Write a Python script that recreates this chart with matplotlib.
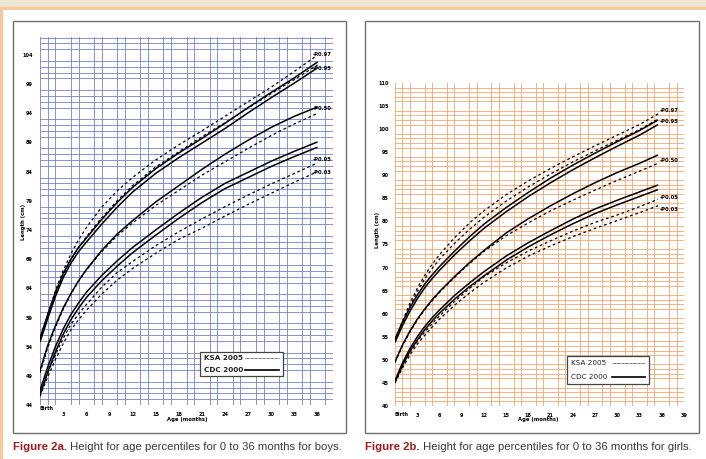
import matplotlib
matplotlib.use("Agg")
import matplotlib.pyplot as plt
from matplotlib.patches import Rectangle
import numpy as np

# ---------------- data ----------------
boys_months = [0, 1, 2, 3, 4, 5, 6, 8, 10, 12, 15, 18, 21, 24, 27, 30, 33, 36]
b_cdc97 = [55.5, 59.5, 63.3, 66.5, 69.0, 71.0, 72.6, 75.8, 78.7, 81.3, 84.5, 87.2, 89.7, 92.3, 95.0, 97.6, 100.1, 102.8]
b_cdc95 = [54.8, 58.8, 62.6, 65.8, 68.3, 70.3, 71.9, 75.0, 77.9, 80.5, 83.7, 86.4, 88.9, 91.4, 94.1, 96.7, 99.2, 101.8]
b_cdc50 = [49.9, 54.2, 57.6, 60.6, 63.1, 65.3, 67.2, 70.5, 73.3, 75.6, 78.8, 81.6, 84.4, 87.0, 89.4, 91.6, 93.5, 95.1]
b_cdc05 = [46.5, 50.5, 54.0, 57.0, 59.5, 61.5, 63.3, 66.2, 68.7, 71.0, 74.0, 76.9, 79.6, 82.0, 83.9, 85.8, 87.5, 89.1]
b_cdc03 = [45.7, 49.6, 53.1, 56.1, 58.6, 60.6, 62.4, 65.3, 67.8, 70.1, 73.1, 76.0, 78.7, 81.1, 83.0, 84.9, 86.6, 88.2]
b_ksa97 = [55.0, 59.6, 63.6, 67.0, 69.9, 72.3, 74.4, 77.9, 80.7, 83.0, 86.0, 88.6, 91.0, 93.5, 96.0, 98.5, 101.2, 104.0]
b_ksa95 = [55.2, 59.3, 63.0, 66.3, 68.9, 71.0, 72.8, 76.1, 79.0, 81.6, 84.8, 87.4, 90.0, 92.4, 94.9, 97.4, 99.8, 102.3]
b_ksa50 = [49.5, 53.8, 57.3, 60.4, 63.0, 65.2, 67.1, 70.3, 73.0, 75.2, 78.2, 80.8, 83.4, 85.7, 88.0, 90.2, 92.2, 94.0]
b_ksa05 = [46.0, 49.5, 52.6, 55.4, 57.8, 59.6, 61.2, 64.2, 66.7, 68.6, 71.3, 73.7, 75.9, 78.0, 80.0, 81.9, 83.7, 85.5]
b_ksa03 = [45.5, 48.8, 51.8, 54.5, 56.9, 58.6, 60.2, 63.0, 65.4, 67.4, 70.0, 72.4, 74.3, 76.4, 78.4, 80.3, 82.2, 84.0]

girls_months = [0, 1, 2, 3, 4, 5, 6, 8, 10, 12, 15, 18, 21, 24, 27, 30, 33, 35.5]
g_cdc97 = [54.5, 58.2, 61.3, 64.0, 66.4, 68.4, 70.2, 73.5, 76.6, 79.4, 83.0, 86.3, 89.4, 92.2, 94.8, 97.3, 99.7, 102.0]
g_cdc95 = [53.8, 57.4, 60.5, 63.2, 65.6, 67.6, 69.4, 72.7, 75.7, 78.5, 82.1, 85.4, 88.4, 91.2, 93.8, 96.3, 98.7, 101.0]
g_cdc50 = [49.6, 53.2, 56.2, 58.8, 61.0, 63.0, 64.8, 68.0, 71.0, 73.7, 77.5, 80.6, 83.4, 86.0, 88.4, 90.6, 92.6, 94.4]
g_cdc05 = [45.5, 49.3, 52.4, 55.0, 57.2, 59.1, 60.8, 63.9, 66.6, 69.1, 72.5, 75.4, 78.0, 80.5, 82.7, 84.6, 86.4, 87.9]
g_cdc03 = [45.2, 48.8, 51.8, 54.3, 56.5, 58.4, 60.1, 63.1, 65.8, 68.2, 71.6, 74.5, 77.1, 79.5, 81.7, 83.6, 85.4, 86.9]
g_ksa97 = [54.0, 58.3, 62.2, 65.5, 68.3, 70.7, 72.8, 76.4, 79.6, 82.3, 85.8, 88.8, 91.5, 94.0, 96.4, 98.7, 101.0, 103.3]
g_ksa95 = [53.8, 57.8, 61.5, 64.8, 67.5, 69.8, 71.8, 75.2, 78.2, 80.9, 84.4, 87.5, 90.3, 92.9, 95.3, 97.6, 99.9, 102.2]
g_ksa50 = [49.4, 53.0, 56.0, 58.6, 60.8, 62.8, 64.6, 67.8, 70.8, 73.5, 76.9, 79.7, 82.3, 84.6, 86.8, 88.9, 90.9, 92.6]
g_ksa05 = [45.2, 48.6, 51.6, 54.0, 56.0, 57.8, 59.5, 62.6, 65.4, 68.0, 71.0, 73.6, 75.8, 77.9, 79.8, 81.4, 83.2, 84.8]
g_ksa03 = [45.0, 48.2, 51.0, 53.4, 55.3, 57.1, 58.8, 61.8, 64.4, 66.8, 69.9, 72.5, 74.7, 76.7, 78.5, 80.2, 81.9, 83.4]

pct_labels = ["P0.97", "P0.95", "P0.50", "P0.05", "P0.03"]
boys_label_y = [104.1, 101.7, 94.9, 86.0, 83.8]
girls_label_y = [104.0, 101.6, 93.1, 85.1, 82.6]

boys_yticks = [44, 49, 54, 59, 64, 69, 74, 79, 84, 89, 94, 99, 104]
girls_yticks = [40, 45, 50, 55, 60, 65, 70, 75, 80, 85, 90, 95, 100, 105, 110]
boys_xticks = [3, 6, 9, 12, 15, 18, 21, 24, 27, 30, 33, 36]
girls_xticks = [3, 6, 9, 12, 15, 18, 21, 24, 27, 30, 33, 36, 39]

legend_names = ["KSA 2005", "CDC 2000"]
caption_a = ("Figure 2a.", " Height for age percentiles for 0 to 36 months for boys.")
caption_b = ("Figure 2b.", " Height for age percentiles for 0 to 36 months for girls.")

# ---------------- figure ----------------
W, H = 706, 459
fig = plt.figure(figsize=(W / 100, H / 100), dpi=100)
fig.patch.set_facecolor("white")


def px(x, y):
    return x / W, 1 - y / H


# decorative frame
fig.patches.append(Rectangle((0, 1 - 7 / H), 1, 7 / H, transform=fig.transFigure,
                             facecolor="#efe7d6", edgecolor="none", zorder=0))
fig.patches.append(Rectangle((0, 1 - 10 / H), 1, 3 / H, transform=fig.transFigure,
                             facecolor="#f8c89c", edgecolor="none", zorder=0))
fig.patches.append(Rectangle((0, 0), 3 / W, 1 - 10 / H, transform=fig.transFigure,
                             facecolor="#f8c89c", edgecolor="none", zorder=0))
for (x0, x1) in [(13, 346), (365, 699)]:
    fig.patches.append(Rectangle((x0 / W, 1 - 433 / H), (x1 - x0) / W, (433 - 21) / H,
                                 transform=fig.transFigure, facecolor="none",
                                 edgecolor="#707070", lw=1.0, zorder=1))

cap_font = "Liberation Sans"


def make_panel(rect, xlim, ylim, gridcolor, months, cdc, ksa, yticks, xticks,
               label_y, label_x, leg_rect, leg_bold, ypad):
    ax = fig.add_axes(rect)
    ax.set_xlim(*xlim)
    ax.set_ylim(*ylim)
    for s in ax.spines.values():
        s.set_visible(False)
    ax.set_xticks(np.arange(0, xlim[1] + 0.01, 1), minor=True)
    ax.set_yticks(np.arange(ylim[0], ylim[1] + 0.01, 1), minor=True)
    ax.grid(which="minor", color=gridcolor, lw=0.6)
    ax.set_axisbelow(True)
    ax.set_yticks(yticks)
    ax.set_yticklabels([str(v) for v in yticks], fontsize=3.6, fontweight="bold")
    ax.set_xticks(xticks)
    ax.set_xticklabels([str(v) for v in xticks], fontsize=3.6, fontweight="bold")
    ax.tick_params(which="both", length=0, pad=5)
    ax.tick_params(axis="y", pad=ypad)
    for s in cdc:
        ax.plot(months, s, color="black", lw=1.1, solid_capstyle="butt")
    for s in ksa:
        ax.plot(months, s, color="black", lw=0.9, ls=(0, (2.2, 2.2)))
    for t, yv in zip(pct_labels, label_y):
        ax.text(label_x, yv, "-" + t, fontsize=3.8, fontweight="bold",
                va="center", ha="left", clip_on=False)
    # legend box
    lx0, ly0, lx1, ly1 = leg_rect
    ax.add_patch(Rectangle((lx0, ly0), lx1 - lx0, ly1 - ly0, facecolor="white",
                           edgecolor="#444444", lw=0.9, zorder=5))
    fw = "bold" if leg_bold else "normal"
    ytop = ly0 + (ly1 - ly0) * 0.75
    ybot = ly0 + (ly1 - ly0) * 0.25
    ax.text(lx0 + (lx1 - lx0) * 0.05, ytop, legend_names[0], fontsize=5.2,
            fontweight=fw, va="center", ha="left", zorder=6, color="#222222")
    ax.text(lx0 + (lx1 - lx0) * 0.05, ybot, legend_names[1], fontsize=5.2,
            fontweight=fw, va="center", ha="left", zorder=6, color="#222222")
    xa = lx0 + (lx1 - lx0) * 0.55
    xb = lx0 + (lx1 - lx0) * 0.95
    ax.plot([xa, xb], [ytop, ytop], color="#333333", lw=0.6, ls=(0, (1, 0.6)), zorder=6)
    ax.plot([xa, xb], [ybot, ybot], color="#111111", lw=1.3, zorder=6)
    return ax


# left panel (boys)
axL = make_panel([40 / W, 1 - 405 / H, 293 / W, 367.5 / H], (0, 38), (44, 107),
                 "#7482c8", boys_months,
                 [b_cdc97, b_cdc95, b_cdc50, b_cdc05, b_cdc03],
                 [b_ksa97, b_ksa95, b_ksa50, b_ksa05, b_ksa03],
                 boys_yticks, boys_xticks, boys_label_y, 35.4,
                 (20.7, 49.0, 31.5, 53.1), True, 5)
# right panel (girls)
axR = make_panel([395 / W, 1 - 406 / H, 289 / W, 323 / H], (0, 39), (40, 110),
                 "#f2a66e", girls_months,
                 [g_cdc97, g_cdc95, g_cdc50, g_cdc05, g_cdc03],
                 [g_ksa97, g_ksa95, g_ksa50, g_ksa05, g_ksa03],
                 girls_yticks, girls_xticks, girls_label_y, 35.7,
                 (23.2, 44.8, 34.3, 50.9), False, 4.5)

# "Birth" labels and axis titles
fig.text(*px(47, 409), "Birth", fontsize=3.6, fontweight="bold", ha="center", va="center")
fig.text(*px(402, 414), "Birth", fontsize=3.6, fontweight="bold", ha="center", va="center")
fig.text(*px(187, 420), "Age (months)", fontsize=3.8, fontweight="bold", ha="center", va="center")
fig.text(*px(538, 420), "Age (months)", fontsize=3.8, fontweight="bold", ha="center", va="center")
fig.text(*px(23, 222), "Length (cm)", fontsize=3.8, fontweight="bold", ha="center",
         va="center", rotation=90)
fig.text(*px(378, 230), "Length (cm)", fontsize=3.8, fontweight="bold", ha="center",
         va="center", rotation=90)

# captions (two colours)
fig.canvas.draw()
renderer = fig.canvas.get_renderer()
for (x0, (head, tail)) in [(13, caption_a), (365, caption_b)]:
    t1 = fig.text(*px(x0, 447), head, fontsize=8.2, fontweight="bold", color="#9e1b20",
                  ha="left", va="center", family=[cap_font, "DejaVu Sans"])
    bb = t1.get_window_extent(renderer=renderer)
    fig.text(bb.x1 / W, 1 - 447 / H, tail, fontsize=8.2, color="#3a3a3a",
             ha="left", va="center", family=[cap_font, "DejaVu Sans"])

fig.savefig("out.png", dpi=100, facecolor="white")
